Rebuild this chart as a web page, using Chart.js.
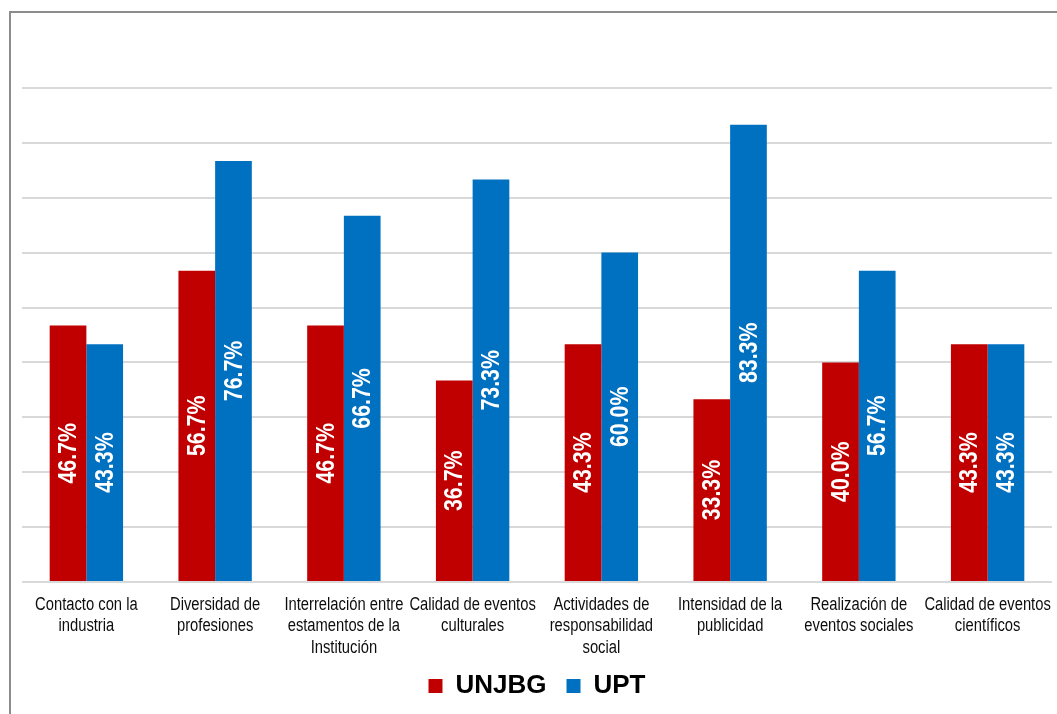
<!DOCTYPE html>
<html>
<head>
<meta charset="utf-8">
<script src="https://cdn.jsdelivr.net/npm/chart.js@4.4.1/dist/chart.umd.min.js"></script>
<style>
  html, body { margin: 0; padding: 0; background: #fff; }
  #wrap { position: relative; width: 1057px; height: 714px; overflow: hidden; }
  #frame { position: absolute; left: 9px; top: 11px; width: 1200px; height: 800px;
           border-left: 2px solid #8c8c8c; border-top: 2px solid #8c8c8c; box-sizing: border-box; }
  canvas { position: absolute; left: 0; top: 0; }
</style>
</head>
<body>
<div id="wrap">
  <div id="frame"></div>
  <canvas id="c" width="1057" height="714"></canvas>
</div>
<script>
const categories = [
  ["Contacto con la", "industria"],
  ["Diversidad de", "profesiones"],
  ["Interrelación entre", "estamentos de la", "Institución"],
  ["Calidad de eventos", "culturales"],
  ["Actividades de", "responsabilidad", "social"],
  ["Intensidad de la", "publicidad"],
  ["Realización de", "eventos sociales"],
  ["Calidad de eventos", "científicos"]
];
const seriesNames = ["UNJBG", "UPT"];
const unjbg = [46.7, 56.7, 46.7, 36.7, 43.3, 33.3, 40.0, 43.3];
const upt = [43.3, 76.7, 66.7, 73.3, 60.0, 83.3, 56.7, 43.3];
const yTicks = [0, 10, 20, 30, 40, 50, 60, 70, 80, 90, 100];

const SANS = '"Liberation Sans", Arial, sans-serif';
const NARROW_SCALE = 0.82;

// Bar value labels (rotated, centered in bar) + narrow category labels
const customText = {
  id: 'customText',
  afterDatasetsDraw(chart) {
    const ctx = chart.ctx;
    chart.data.datasets.forEach((ds, i) => {
      const meta = chart.getDatasetMeta(i);
      meta.data.forEach((bar, j) => {
        const v = ds.data[j];
        const cy = (bar.y + bar.base) / 2;
        ctx.save();
        ctx.translate(bar.x, cy);
        ctx.rotate(-Math.PI / 2);
        ctx.scale(NARROW_SCALE, 1);
        ctx.font = 'bold 26px ' + SANS;
        ctx.fillStyle = '#ffffff';
        ctx.textAlign = 'center';
        ctx.textBaseline = 'middle';
        ctx.fillText(v.toFixed(1) + '%', 0, 1);
        ctx.restore();
      });
    });
  },
  afterDraw(chart) {
    const ctx = chart.ctx;
    const xs = chart.scales.x;
    chart.data.labels.forEach((lines, i) => {
      const x = xs.getPixelForTick(i);
      lines.forEach((line, k) => {
        ctx.save();
        ctx.translate(x, xs.top + 23 + k * 21.5);
        ctx.scale(NARROW_SCALE, 1);
        ctx.font = '18px ' + SANS;
        ctx.fillStyle = '#0d0d0d';
        ctx.textAlign = 'center';
        ctx.textBaseline = 'middle';
        ctx.fillText(line, 0, 0);
        ctx.restore();
      });
    });
  }
};

new Chart(document.getElementById('c'), {
  type: 'bar',
  data: {
    labels: categories,
    datasets: [
      { label: seriesNames[0], data: unjbg, backgroundColor: '#C00000' },
      { label: seriesNames[1], data: upt, backgroundColor: '#0070C0' }
    ]
  },
  options: {
    responsive: false,
    animation: false,
    devicePixelRatio: 1,
    layout: { padding: { left: 22, right: 5, top: 33, bottom: 5 } },
    datasets: { bar: { barPercentage: 1.0, categoryPercentage: 0.57 } },
    plugins: {
      tooltip: { enabled: false },
      legend: {
        position: 'bottom',
        labels: {
          boxWidth: 14, boxHeight: 14, padding: 20,
          color: '#000',
          font: { family: SANS, size: 26, weight: 'bold' }
        }
      }
    },
    scales: {
      x: {
        grid: { display: false },
        border: { display: false },
        ticks: { display: false },
        afterFit(scale) { scale.height = 71; }
      },
      y: {
        min: 0, max: 100,
        afterBuildTicks(scale) { scale.ticks = yTicks.map(v => ({ value: v })); },
        grid: {
          drawTicks: false,
          color: (c) => (c.tick && c.tick.value === 100) ? 'rgba(0,0,0,0)' : '#d9d9d9',
          lineWidth: 2
        },
        border: { display: false },
        ticks: { display: false }
      }
    }
  },
  plugins: [customText]
});
</script>
</body>
</html>
